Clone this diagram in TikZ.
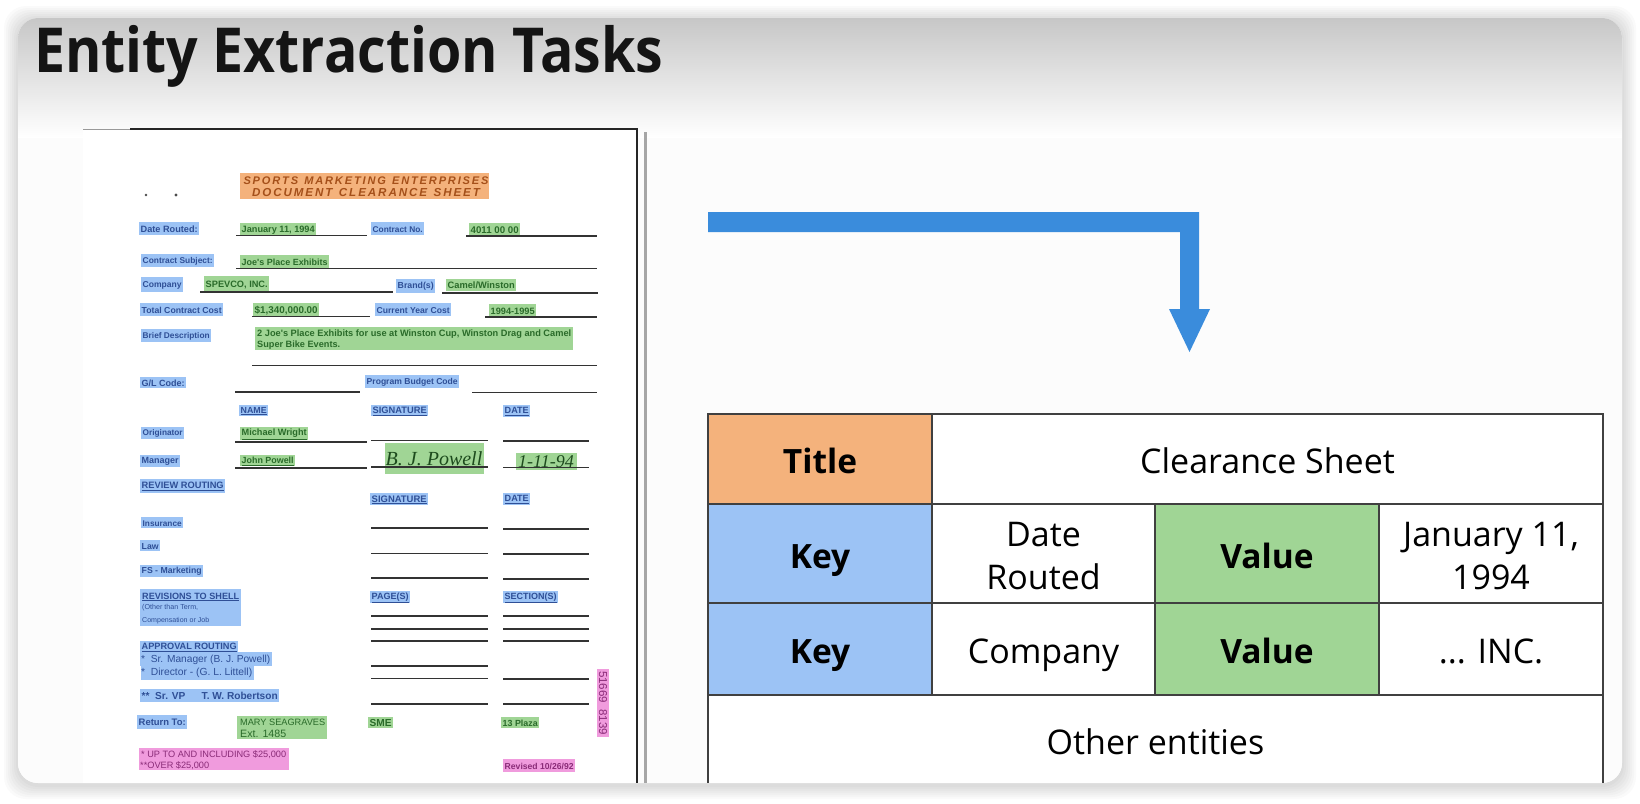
\documentclass[tikz,border=0pt]{standalone}
\usepackage{fontspec}
\usepackage{graphicx}
\setmainfont{Open Sans}
\newfontfamily\docfont{Liberation Sans}
\newfontfamily\serifit{Liberation Serif}
\usetikzlibrary{calc}
\definecolor{hlblue}{HTML}{9CC3F5}
\definecolor{hlgreen}{HTML}{A0D595}
\definecolor{hlorange}{HTML}{F4B27C}
\definecolor{hlpink}{HTML}{F09BDD}
\definecolor{txtblue}{HTML}{2F4F96}
\definecolor{txtgreen}{HTML}{2A6B2A}
\definecolor{txtorange}{HTML}{A5501A}
\definecolor{txtpink}{HTML}{8A2C78}
\definecolor{arrowblue}{HTML}{3A8CDC}
\newcounter{hbc}
% colour key, x1,y1,x2,y2,text
\newcommand\hb[6]{%
  \stepcounter{hbc}%
  \fill[hl#1] (#2,#3) rectangle (#4,#5);
  \pgfmathsetlengthmacro\hbw{#4-#2-3}%
  \node[anchor=west,inner sep=0pt,text=txt#1,font=\docfont\bfseries] (h\thehbc) at ({#2+1.5},{(#3+#5)/2+0.7}) {\resizebox{\hbw}{!}{#6}};
}
% bare line
\newcommand\fl[3]{\draw[formline] (#1,#3) -- (#2,#3);}
\tikzset{
  formline/.style={line width=1.3pt,draw=black!80},
  cell/.style={draw=black!75,line width=1.5pt,anchor=north west,inner sep=0pt,outer sep=0pt,align=center,text=black,text height=30pt,text depth=2pt,font=\fontsize{34}{43}\selectfont},
  hcell/.style={cell,font=\fontsize{33.5}{43}\selectfont\bfseries},
  lines/.style={inner sep=0pt,align=center,text=black,font=\fontsize{34}{43}\selectfont},
}
\begin{document}
\begin{tikzpicture}[x=1pt,y=-1pt]
\useasboundingbox (0,0) rectangle (1640,803);
\fill[white] (0,0) rectangle (1640,803);
% card shadow
\foreach \s in {14,12,...,2}{
  \fill[black,opacity=0.018,rounded corners=22pt] ({18-\s},{18-\s+2}) rectangle ({1622+\s},{783+\s+2});
}
% card
\fill[white,rounded corners=20pt] (18,18) rectangle (1622,783);
\begin{scope}
  \clip[rounded corners=20pt] (18,18) rectangle (1622,783);
  \shade[top color=black!22,bottom color=white] (18,18) rectangle (1622,138);
  \fill[black!1] (18,138) rectangle (1622,783);
\end{scope}
\node[anchor=base west,inner sep=0pt,font=\fontsize{62}{62}\selectfont\bfseries,text=black!92] (title) at (34,72) {\scalebox{0.895}[1]{Entity Extraction Tasks}};

% scanned page
\fill[white] (83,130) rectangle (636,783);
\fill[black!35] (644,132) rectangle (647,783);
\draw[line width=1pt,black!40] (83,129) -- (130,129);
\draw[line width=2pt,black!85] (130,129) -- (637,129) -- (637,783);

\fill[hlorange] (240,173) rectangle (489,199);
\node[font=\docfont\bfseries\itshape\fontsize{10}{12}\selectfont,text=txtorange,inner sep=0pt] (h1a) at (366,180.5) {\resizebox{245pt}{!}{S\,P\,O\,R\,T\,S\ \ M\,A\,R\,K\,E\,T\,I\,N\,G\ \ E\,N\,T\,E\,R\,P\,R\,I\,S\,E\,S}};
\node[font=\docfont\bfseries\itshape\fontsize{10}{12}\selectfont,text=txtorange,inner sep=0pt] (h1b) at (366,193) {\resizebox{228pt}{!}{D\,O\,C\,U\,M\,E\,N\,T\ \ C\,L\,E\,A\,R\,A\,N\,C\,E\ \ S\,H\,E\,E\,T}};
\fill[black!70] (146,195) circle (1.4pt) (176,195) circle (1.6pt);

\hb{blue}{139}{222}{199}{235}{Date Routed:}
\hb{green}{240}{223}{316}{236}{January 11, 1994}
\fl{236}{367}{235.5}
\hb{blue}{371}{222}{424}{235}{Contract No.}
\hb{green}{469}{223}{520}{236}{4011 00 00}
\fl{466}{597}{236}
\hb{blue}{141}{254}{214}{267}{Contract Subject:}
\hb{green}{240}{255}{329}{268}{Joe's Place Exhibits}
\fl{236}{597}{268.5}
\hb{blue}{141}{277}{183}{292}{Company}
\hb{green}{204}{276}{269}{292}{SPEVCO, INC.}
\fl{200}{393}{292}
\hb{blue}{396}{279}{435}{293}{Brand(s)}
\hb{green}{446}{279}{516}{291}{Camel/Winston}
\fl{442}{598}{293}
\hb{blue}{140}{303}{223}{316}{Total Contract Cost}
\hb{green}{253}{303}{319}{316}{\$1,340,000.00}
\fl{252}{370}{316.5}
\hb{blue}{375}{303}{451}{316}{Current Year Cost}
\hb{green}{489}{304}{536}{317}{1994-1995}
\fl{485}{597}{317}
\hb{blue}{141}{329}{211}{342}{Brief Description}
\fill[hlgreen] (255,327) rectangle (573,350);
\node[anchor=west,inner sep=0pt,text=txtgreen,font=\docfont\bfseries] (bd1) at (257,334) {\resizebox{314pt}{!}{2 Joe's Place Exhibits for use at Winston Cup, Winston Drag and Camel}};
\node[anchor=west,inner sep=0pt,text=txtgreen,font=\docfont\bfseries] (bd2) at (257,345) {\resizebox{83pt}{!}{Super Bike Events.}};
\fl{252}{597}{365.5}
\hb{blue}{140}{377}{186}{388}{G/L Code:}
\fl{235}{360}{392}
\hb{blue}{365}{375}{459}{388}{Program Budget Code}
\fl{472}{597}{392.5}
\hb{blue}{239}{405}{268}{416}{\underline{NAME}}
\hb{blue}{371}{405}{428}{416}{\underline{SIGNATURE}}
\hb{blue}{503}{405}{530}{417}{\underline{DATE}}
\hb{blue}{141}{427}{184}{439}{Originator}
\hb{green}{240}{427}{308}{440}{\underline{Michael Wright}}
\fl{235}{367}{442}
\fl{371}{488}{440.5}
\fl{503}{589}{441}
\hb{blue}{140}{455}{180}{467}{Manager}
\hb{green}{240}{455}{295}{466}{\underline{John Powell}}
\fl{235}{367}{468}
\fill[hlgreen] (385,443) rectangle (484,474);
\fill[hlgreen] (516,453) rectangle (577,470);
\fl{371}{488}{467}
\fl{503}{589}{467.5}
\node[inner sep=0pt,text=txtgreen!70!black,font=\serifit\itshape\fontsize{20}{20}\selectfont] (sig) at (434,459) {B. J. Powell};
\node[inner sep=0pt,text=txtgreen!70!black,font=\serifit\itshape\fontsize{18}{18}\selectfont] (sigd) at (546,462) {1-11-94};
\hb{blue}{140}{479}{225}{493}{\underline{REVIEW ROUTING}}
\hb{blue}{370}{493}{428}{505}{\underline{SIGNATURE}}
\hb{blue}{503}{493}{530}{505}{\underline{DATE}}
\hb{blue}{141}{517}{183}{528}{Insurance}
\fl{371}{488}{528}\fl{503}{589}{529}
\hb{blue}{140}{540}{160}{551}{Law}
\fl{371}{488}{553.5}\fl{503}{589}{554}
\hb{blue}{140}{565}{203}{577}{FS - Marketing}
\fl{371}{488}{578}\fl{503}{589}{579}
\fill[hlblue] (140,589) rectangle (241,626);
\node[anchor=west,inner sep=0pt,text=txtblue,font=\docfont\bfseries] (r1) at (142,597) {\resizebox{97pt}{!}{\underline{REVISIONS TO SHELL}}};
\node[anchor=west,inner sep=0pt,text=txtblue,font=\docfont] (r2) at (142,608) {\resizebox{56pt}{!}{(Other than Term,}};
\node[anchor=west,inner sep=0pt,text=txtblue,font=\docfont] (r3) at (142,621) {\resizebox{67pt}{!}{Compensation or Job}};
\hb{blue}{370}{591}{410}{603}{\underline{PAGE(S)}}
\hb{blue}{503}{591}{558}{603}{\underline{SECTION(S)}}
\foreach \yy in {616,629,641}{\fl{371}{488}{\yy}\fl{503}{589}{\yy}}
\fl{371}{488}{666}
\fl{371}{488}{678.5}\fl{503}{589}{679}
\fl{371}{488}{704}\fl{503}{589}{704}
\hb{blue}{140}{641}{238}{653}{\underline{APPROVAL ROUTING}}
\fill[hlblue] (140,652) rectangle (272,666);
\fill[hlblue] (141,666) rectangle (254,680);
\node[anchor=west,inner sep=0pt,text=txtblue,font=\docfont] (a1) at (141,660) {\resizebox{129pt}{!}{*\ \ Sr. Manager (B. J. Powell)}};
\node[anchor=west,inner sep=0pt,text=txtblue,font=\docfont] (a2) at (141,672.5) {\resizebox{111pt}{!}{*\ \ Director - (G. L. Littell)}};
\hb{blue}{140}{689}{279}{702}{** \ Sr. VP\hspace{1.6em}T. W. Robertson}
\hb{blue}{137}{715}{187}{729}{Return To:}
\fill[hlgreen] (237,716) rectangle (327,739);
\node[anchor=west,inner sep=0pt,text=txtgreen,font=\docfont] (m1) at (240,722.5) {\resizebox{85pt}{!}{MARY SEAGRAVES}};
\node[anchor=west,inner sep=0pt,text=txtgreen,font=\docfont] (m2) at (240,734) {\resizebox{46pt}{!}{Ext. 1485}};
\hb{green}{368}{717}{393}{728}{SME}
\hb{green}{501}{717}{539}{728}{13 Plaza}
\fill[hlpink] (139,748) rectangle (289,770);
\node[anchor=west,inner sep=0pt,text=txtpink,font=\docfont] (p1) at (141,755) {\resizebox{145pt}{!}{* UP TO AND INCLUDING \$25,000}};
\node[anchor=west,inner sep=0pt,text=txtpink,font=\docfont] (p2) at (140,765.5) {\resizebox{69pt}{!}{**OVER \$25,000}};
\hb{pink}{503}{759}{575}{772}{Revised 10/26/92}
\fill[hlpink] (597,669) rectangle (609,737);
\node[rotate=-90,inner sep=0pt,text=txtpink,font=\docfont] (code) at (603,703) {\resizebox{64pt}{!}{51669\ \ 8139}};

% arrow
\coordinate (a0) at (708,212);
\coordinate (a1c) at (1199,212);
\coordinate (a2c) at (1199,309);
\coordinate (a3) at (1210,309);
\coordinate (tip) at (1189.5,352);
\coordinate (a5) at (1169,309);
\coordinate (a6) at (1180,309);
\coordinate (a7) at (1180,232);
\coordinate (a8) at (708,232);
\fill[arrowblue] (a0) -- (a1c) -- (a2c) -- (a3) -- (tip) -- (a5) -- (a6) -- (a7) -- (a8) -- cycle;

% table
\fill[white] (708,414) rectangle (1603,783);
\node[hcell,fill=hlorange,minimum width=224pt,minimum height=90pt] (t11) at (708,414) {Title};
\node[cell,minimum width=671pt,minimum height=90pt] (t12) at (932,414) {Clearance Sheet};
\node[hcell,fill=hlblue,minimum width=224pt,minimum height=99pt,text depth=1pt] (t21) at (708,504) {Key};
\node[cell,minimum width=223pt,minimum height=99pt,text depth=1pt] (t22) at (932,504) {};
\node[hcell,fill=hlgreen,minimum width=224pt,minimum height=99pt,text depth=1pt] (t23) at (1155,504) {Value};
\node[cell,minimum width=224pt,minimum height=99pt,text depth=1pt] (t24) at (1379,504) {};
\node[lines] (t22t) at ($(t22.center)+(0,3)$) {Date\\Routed};
\node[lines] (t24t) at ($(t24.center)+(0,3)$) {January 11,\\1994};
\node[hcell,fill=hlblue,minimum width=224pt,minimum height=92pt] (t31) at (708,603) {Key};
\node[cell,minimum width=223pt,minimum height=92pt] (t32) at (932,603) {Company};
\node[hcell,fill=hlgreen,minimum width=224pt,minimum height=92pt] (t33) at (1155,603) {Value};
\node[cell,minimum width=224pt,minimum height=92pt] (t34) at (1379,603) {... INC.};
\draw[black!75,line width=1.5pt] (708,783) -- (708,695) -- (1603,695) -- (1603,783);
\node[lines] (t41) at (1155.5,742) {Other entities};
\end{tikzpicture}
\end{document}
